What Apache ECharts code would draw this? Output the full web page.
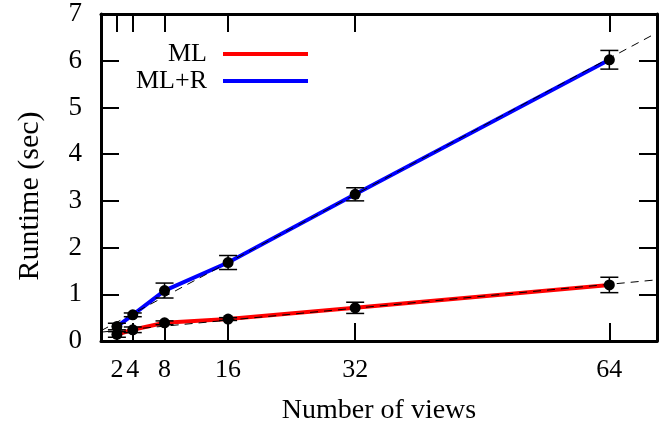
<!DOCTYPE html>
<html><head><meta charset="utf-8">
<script src="https://cdn.jsdelivr.net/npm/echarts@6/dist/echarts.min.js"></script>
<style>html,body{margin:0;padding:0;background:#fff}#c{width:669px;height:423px}</style>
</head><body><div id="c"></div>
<script>
// ---- data ----
const views = [2, 4, 8, 16, 32, 64];
const mlRuntime = [0.14, 0.24, 0.39, 0.47, 0.71, 1.20];
const mlError = [0.06, 0.06, 0.04, 0.03, 0.12, 0.165];
const mlrRuntime = [0.31, 0.56, 1.08, 1.68, 3.14, 6.02];
const mlrError = [0.07, 0.04, 0.16, 0.15, 0.14, 0.20];
const mlFit = [[0, 0.19], [70, 1.31]];
const mlrFit = [[0, 0.22], [70, 6.60]];
const xTicks = [2, 4, 8, 16, 32, 64];
const yMin = 0, yMax = 7, yStep = 1;
const xMin = 0, xMax = 70;
const seriesNames = ['ML', 'ML+R'];
const xTitle = 'Number of views';
const yTitle = 'Runtime (sec)';

const FONT = 'Liberation Serif';
const pts = (xs, ys) => xs.map((x, i) => [x, ys[i]]);
const bars = (xs, ys, es) => xs.map((x, i) => [x, ys[i] - es[i], ys[i] + es[i]]);

function errRender(params, api) {
  const x = api.value(0);
  const lo = api.coord([x, api.value(1)]);
  const hi = api.coord([x, api.value(2)]);
  const w = 9;
  const st = { stroke: '#000', lineWidth: 1.5 };
  return {
    type: 'group', children: [
      { type: 'line', shape: { x1: lo[0], y1: lo[1], x2: hi[0], y2: hi[1] }, style: st },
      { type: 'line', shape: { x1: lo[0] - w, y1: lo[1], x2: lo[0] + w, y2: lo[1] }, style: st },
      { type: 'line', shape: { x1: hi[0] - w, y1: hi[1], x2: hi[0] + w, y2: hi[1] }, style: st }
    ]
  };
}

const axisLine = { show: true, onZero: false, lineStyle: { color: '#000', width: 3 } };
const tickStyle = { color: '#000', width: 2 };

const chart = echarts.init(document.getElementById('c'), null, { renderer: 'canvas' });
chart.setOption({
  animation: false,
  backgroundColor: '#fff',
  textStyle: { fontFamily: FONT, color: '#000' },
  grid: { left: 101, right: 12, top: 14, bottom: 82, containLabel: false, outerBoundsMode: 'none' },
  legend: [
    { data: [seriesNames[0]], right: 361, top: 41, padding: 0, align: 'right', icon: 'rect',
      itemWidth: 85, itemHeight: 4,
      textStyle: { fontFamily: FONT, fontSize: 26, color: '#000', padding: [0, 11, 0, 0] } },
    { data: [seriesNames[1]], right: 361, top: 68, padding: 0, align: 'right', icon: 'rect',
      itemWidth: 85, itemHeight: 4,
      textStyle: { fontFamily: FONT, fontSize: 26, color: '#000', padding: [0, 11, 0, 0] } }
  ],
  xAxis: [
    { type: 'value', min: xMin, max: xMax, position: 'bottom',
      axisLine: axisLine,
      axisTick: { show: true, inside: true, length: 18, customValues: xTicks, lineStyle: tickStyle },
      axisLabel: { customValues: xTicks, fontSize: 26, fontFamily: FONT, color: '#000', margin: 16 },
      splitLine: { show: false },
      name: xTitle, nameLocation: 'middle', nameGap: 56,
      nameTextStyle: { fontSize: 28, fontFamily: FONT, color: '#000' } },
    { type: 'value', min: xMin, max: xMax, position: 'top',
      axisLine: axisLine,
      axisTick: { show: true, inside: true, length: 18, customValues: xTicks, lineStyle: tickStyle },
      axisLabel: { show: false }, splitLine: { show: false } }
  ],
  yAxis: [
    { type: 'value', min: yMin, max: yMax, interval: yStep, position: 'left',
      axisLine: axisLine,
      axisTick: { show: true, inside: true, length: 18, lineStyle: tickStyle },
      axisLabel: { fontSize: 27, fontFamily: FONT, color: '#000', margin: 19 },
      splitLine: { show: false } },
    { type: 'value', min: yMin, max: yMax, interval: yStep, position: 'right',
      axisLine: axisLine,
      axisTick: { show: true, inside: true, length: 18, lineStyle: tickStyle },
      axisLabel: { show: false }, splitLine: { show: false } }
  ],
  graphic: [
    { type: 'text', x: 30, y: 196, rotation: Math.PI / 2,
      style: { text: yTitle, fontSize: 30, fontFamily: FONT, fill: '#000', align: 'center', verticalAlign: 'middle' } }
  ],
  series: [
    { name: seriesNames[0], type: 'line', data: pts(views, mlRuntime), showSymbol: false, symbol: 'none',
      lineStyle: { color: '#ff0000', width: 4 }, itemStyle: { color: '#ff0000' }, z: 2 },
    { name: seriesNames[1], type: 'line', data: pts(views, mlrRuntime), showSymbol: false, symbol: 'none',
      lineStyle: { color: '#0000ff', width: 4 }, itemStyle: { color: '#0000ff' }, z: 2 },
    { type: 'line', data: mlFit, symbol: 'none', lineStyle: { color: '#000', width: 1, type: [8, 6] }, z: 3, silent: true },
    { type: 'line', data: mlrFit, symbol: 'none', lineStyle: { color: '#000', width: 1, type: [8, 6] }, z: 3, silent: true },
    { type: 'custom', renderItem: errRender, data: bars(views, mlRuntime, mlError), z: 4, encode: { x: 0, y: [1, 2] } },
    { type: 'custom', renderItem: errRender, data: bars(views, mlrRuntime, mlrError), z: 4, encode: { x: 0, y: [1, 2] } },
    { type: 'scatter', data: pts(views, mlRuntime), symbol: 'circle', symbolSize: 11, itemStyle: { color: '#000', opacity: 1 }, z: 5 },
    { type: 'scatter', data: pts(views, mlrRuntime), symbol: 'circle', symbolSize: 11, itemStyle: { color: '#000', opacity: 1 }, z: 5 }
  ]
});
</script>
</body></html>
